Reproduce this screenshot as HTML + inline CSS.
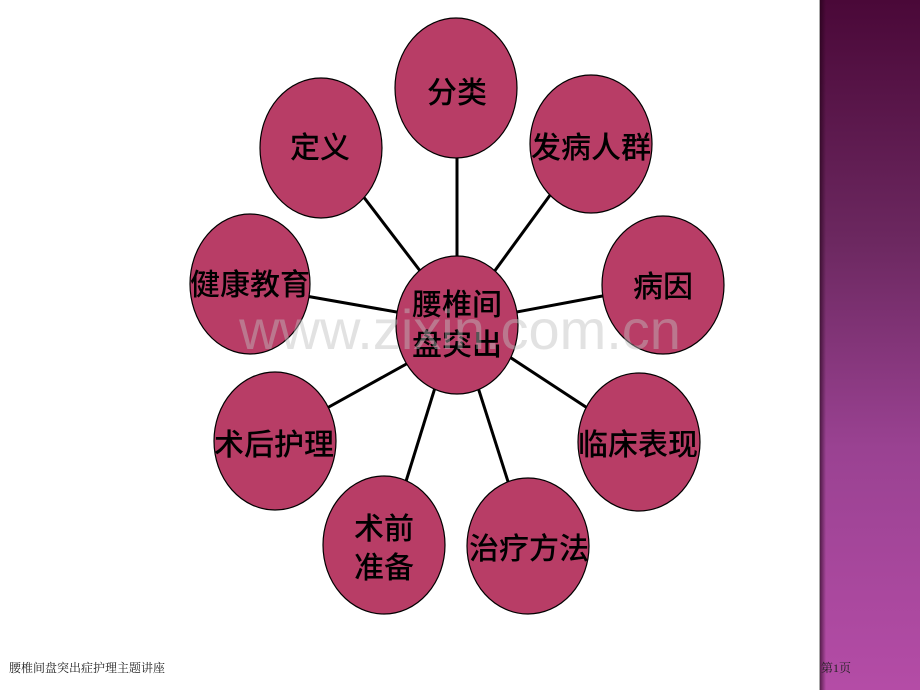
<!DOCTYPE html>
<html><head><meta charset="utf-8"><style>
html,body{margin:0;padding:0;background:#fff;}
#c{position:relative;width:920px;height:690px;overflow:hidden;background:#fff;font-family:"Liberation Sans","Noto Sans CJK SC",sans-serif;}
#strip{position:absolute;left:820px;top:0;width:100px;height:690px;background:linear-gradient(#4a0838,#6c2860 35%,#9a4292 65%,#b44ca6);}
#strip:before{content:"";position:absolute;left:0;top:0;width:6px;height:100%;background:linear-gradient(90deg,rgba(30,0,20,.6),rgba(30,0,20,0));}
#edge{position:absolute;left:819px;top:0;width:1px;height:690px;background:#aaa;}
.ft{position:absolute;font-size:12px;color:#222;font-family:"Liberation Serif","Noto Serif CJK SC",serif;}
</style></head><body><div id="c">
<div id="edge"></div><div id="strip"></div>
<svg width="920" height="690" style="position:absolute;left:0;top:0">
<g stroke="#000" stroke-width="3">
<line x1="457" y1="150" x2="457" y2="270"/>
<line x1="356" y1="187" x2="424" y2="276"/>
<line x1="556" y1="187" x2="491" y2="276"/>
<line x1="300" y1="295" x2="408" y2="314"/>
<line x1="613" y1="294" x2="506" y2="314"/>
<line x1="318" y1="413" x2="428" y2="352"/>
<line x1="595" y1="413" x2="502" y2="352"/>
<line x1="403" y1="491" x2="438" y2="378"/>
<line x1="511" y1="491" x2="475" y2="378"/>
</g>
<g fill="#b83d66" stroke="#000" stroke-width="1.2">
<ellipse cx="456" cy="88" rx="61" ry="70"/>
<ellipse cx="321" cy="148" rx="61" ry="70"/>
<ellipse cx="591" cy="144" rx="61" ry="69"/>
<ellipse cx="250" cy="284" rx="60" ry="70"/>
<ellipse cx="663" cy="285" rx="61" ry="69"/>
<ellipse cx="457" cy="325" rx="61" ry="69"/>
<ellipse cx="275" cy="441" rx="61" ry="69"/>
<ellipse cx="639" cy="442" rx="61" ry="69"/>
<ellipse cx="384" cy="545" rx="61" ry="69"/>
<ellipse cx="528" cy="546" rx="61" ry="68"/>
</g>
<g font-family="Liberation Sans,Noto Sans CJK SC,sans-serif" font-size="30" font-weight="500" fill="#000" text-anchor="middle">
<text x="457" y="103">分类</text>
<text x="320" y="158">定义</text>
<text x="591" y="158">发病人群</text>
<text x="250" y="295">健康教育</text>
<text x="663" y="297">病因</text>
<text x="457" y="315">腰椎间</text>
<text x="457" y="355">盘突出</text>
<text x="274" y="455">术后护理</text>
<text x="638" y="455">临床表现</text>
<text x="384" y="539">术前</text>
<text x="384" y="578">准备</text>
<text x="529" y="559">治疗方法</text>
</g>
<text x="460" y="349" text-anchor="middle" font-family="Liberation Sans,sans-serif" font-size="56" fill="rgba(190,190,190,0.45)">www.zixin.com.cn</text>
</svg>
<div class="ft" style="left:9px;top:659px">腰椎间盘突出症护理主题讲座</div>
<div class="ft" style="left:821px;top:659px">第1页</div>
</div></body></html>
